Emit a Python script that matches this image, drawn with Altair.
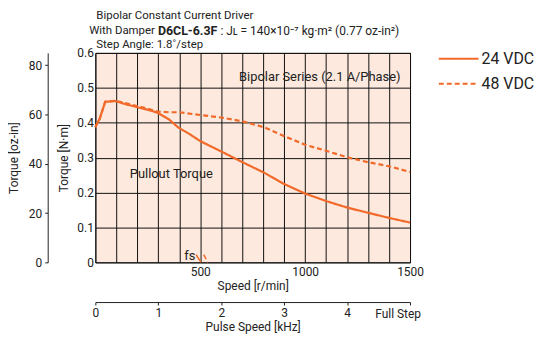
import altair as alt
import pandas as pd

FONT = "Liberation Sans Narrow, Roboto, sans-serif"
ORANGE = "#f26a2a"
INK = "#222"

# 24 VDC pullout torque
speed24 = [0, 10, 20, 47, 95, 150, 197, 250, 295, 350, 394, 450, 501, 599, 701, 804, 898, 1000, 1103, 1200, 1300, 1402, 1500]
torque24 = [0.387, 0.40, 0.41, 0.46, 0.462, 0.452, 0.445, 0.437, 0.429, 0.41, 0.387, 0.367, 0.347, 0.318, 0.287, 0.257, 0.225, 0.197, 0.175, 0.157, 0.142, 0.127, 0.114]
# 48 VDC pullout torque
speed48 = [0, 10, 20, 47, 95, 150, 197, 250, 295, 350, 400, 501, 599, 701, 804, 898, 1000, 1103, 1200, 1300, 1402, 1500]
torque48 = [0.387, 0.40, 0.41, 0.46, 0.463, 0.455, 0.448, 0.44, 0.432, 0.43, 0.43, 0.422, 0.415, 0.404, 0.387, 0.362, 0.337, 0.319, 0.301, 0.287, 0.275, 0.259]
series = ["24 VDC", "48 VDC"]

# starting-frequency (fs) marks
fs_speed = [480, 504, 517, 536]
fs_torque = [0.022, 0.0, 0.022, 0.0]
fs_group = ["24 VDC", "24 VDC", "48 VDC", "48 VDC"]

speed_ticks = list(range(0, 1501, 100))
nm_ticks = [0, 0.1, 0.2, 0.3, 0.4, 0.5, 0.6]
oz_ticks = [0, 20, 40, 60, 80]
khz_ticks = [0, 1, 2, 3, 4, 5]
khz_end_label = "Full Step"
OZ_MAX = 0.6 * 141.612

df = pd.concat([
    pd.DataFrame({"speed": speed24, "torque": torque24, "series": series[0]}),
    pd.DataFrame({"speed": speed48, "torque": torque48, "series": series[1]}),
])
fs_df = pd.DataFrame({"speed": fs_speed, "torque": fs_torque, "series": fs_group})

xs = alt.Scale(domain=[0, 1500], nice=False)
ys = alt.Scale(domain=[0, 0.6], nice=False)

x_axis = alt.Axis(values=speed_ticks, grid=True, gridColor="#111", gridWidth=1, gridOpacity=1,
                  ticks=False, domain=False, title="Speed [r/min]", format="d",
                  labelExpr="datum.value % 500 == 0 && datum.value > 0 ? datum.label : ''",
                  labelFlush=False, labelOverlap=False,
                  labelFont=FONT, labelFontSize=12, labelColor=INK, labelPadding=4,
                  titleFont=FONT, titleFontSize=12, titleFontWeight="normal", titleColor=INK, titlePadding=3)
y_axis = alt.Axis(values=nm_ticks, grid=True, gridColor="#111", gridWidth=1, gridOpacity=1,
                  ticks=False, domain=False, title="Torque [N·m]",
                  labelExpr="datum.value == 0 ? '0' : format(datum.value, '.1f')",
                  labelFlush=False, labelOverlap=False,
                  labelFont=FONT, labelFontSize=12, labelColor=INK, labelPadding=2,
                  titleFont=FONT, titleFontSize=12, titleFontWeight="normal", titleColor=INK, titlePadding=6)

leg = alt.Legend(title=None, orient="none", legendX=345, legendY=-5,
                 symbolType="stroke", symbolSize=1600, symbolStrokeWidth=2,
                 labelFont=FONT, labelFontSize=16, labelFontWeight="normal", labelColor=INK,
                 clipHeight=22, rowPadding=3, labelOffset=2)
color = alt.Color("series:N", scale=alt.Scale(domain=series, range=[ORANGE, ORANGE]), legend=leg)
dash = alt.StrokeDash("series:N", scale=alt.Scale(domain=series, range=[[1, 0], [5, 3]]), legend=leg)

X = alt.X("speed:Q", scale=xs, axis=x_axis)
Y = alt.Y("torque:Q", scale=ys, axis=y_axis)

lines = alt.Chart(df).mark_line(strokeWidth=2.2).encode(x=X, y=Y, color=color, strokeDash=dash)

fs_lines = alt.Chart(fs_df).mark_line(strokeWidth=1.5).encode(
    x=X, y=Y, color=color, strokeDash=dash, detail="series:N")

labels_df = pd.DataFrame({
    "speed": [362, 450, 1455],
    "torque": [0.252, 0.017, 0.532],
    "label": ["Pullout Torque", "fs", "Bipolar Series (2.1 A/Phase)"],
})
ann_c = alt.Chart(labels_df.iloc[:2]).mark_text(
    font=FONT, fontSize=13, color=INK, align="center", baseline="middle").encode(
    x=X, y=Y, text="label:N")
ann_r = alt.Chart(labels_df.iloc[2:]).mark_text(
    font=FONT, fontSize=13, color=INK, align="right", baseline="middle").encode(
    x=X, y=Y, text="label:N")

primary = alt.layer(lines, fs_lines, ann_c, ann_r)

# secondary axes (oz-in, kHz)
KX = alt.X("khz:Q", scale=alt.Scale(domain=[0, 5], nice=False),
           axis=alt.Axis(orient="bottom", offset=40, values=khz_ticks, grid=False,
                         labelExpr="datum.value == 5 ? '' : datum.label",
                         labelFlush=False, labelOverlap=False,
                         tickSize=3, tickColor=INK, domainColor=INK,
                         title="Pulse Speed [kHz]", labelFont=FONT, labelFontSize=12, labelColor=INK,
                         titleFont=FONT, titleFontSize=12, titleFontWeight="normal", titleColor=INK,
                         labelPadding=3, titlePadding=3))
OY = alt.Y("oz:Q", scale=alt.Scale(domain=[0, OZ_MAX], nice=False),
           axis=alt.Axis(orient="left", offset=48, values=oz_ticks, grid=False,
                         labelFlush=False, labelOverlap=False,
                         tickSize=3, tickColor=INK, domainColor=INK,
                         title="Torque [oz-in]", labelFont=FONT, labelFontSize=12, labelColor=INK,
                         titleFont=FONT, titleFontSize=12, titleFontWeight="normal", titleColor=INK,
                         labelPadding=3, titlePadding=8))
sec_df = pd.DataFrame({"khz": [0, 5], "oz": [0, OZ_MAX]})
secondary = alt.Chart(sec_df).mark_point(opacity=0).encode(x=KX, y=OY)
end_df = pd.DataFrame({"khz": [khz_ticks[-1]], "label": [khz_end_label]})
end_label = alt.Chart(end_df).mark_text(font=FONT, fontSize=12, color=INK, align="center",
                                        baseline="middle", dx=-12).encode(
    x=KX, y=alt.value(263), text="label:N")

one = pd.DataFrame({"a": [0]})
def txt(s, x, y, bold=False, size=11.5, align="left"):
    return alt.Chart(one).mark_text(text=s, font=FONT, fontSize=size, color=INK, align=align,
                                    baseline="middle", fontWeight="bold" if bold else "normal").encode(
        x=alt.value(x), y=alt.value(y))

titles = alt.layer(
    txt("Bipolar Constant Current Driver", 1, -37),
    txt("With Damper", 60, -22, align="right"),
    txt("D6CL-6.3F", 63, -22, bold=True, size=12.5),
    txt(": Jʟ = 140×10⁻⁷ kg·m² (0.77 oz-in²)", 126, -22, size=12),
    txt("Step Angle: 1.8˚/step", 1, -7.5),
)

chart = alt.layer(primary, alt.layer(secondary, end_label), titles).resolve_scale(
    x="independent", y="independent"
).properties(
    width=317, height=211,
    autosize=alt.AutoSizeParams(type="none"),
    padding={"left": 88, "top": 44, "right": 140, "bottom": 79},
).configure_view(fill="#fde9dd", stroke="#111", strokeWidth=1)

chart.save("out.html", embed_options={"renderer": "svg", "actions": False})
